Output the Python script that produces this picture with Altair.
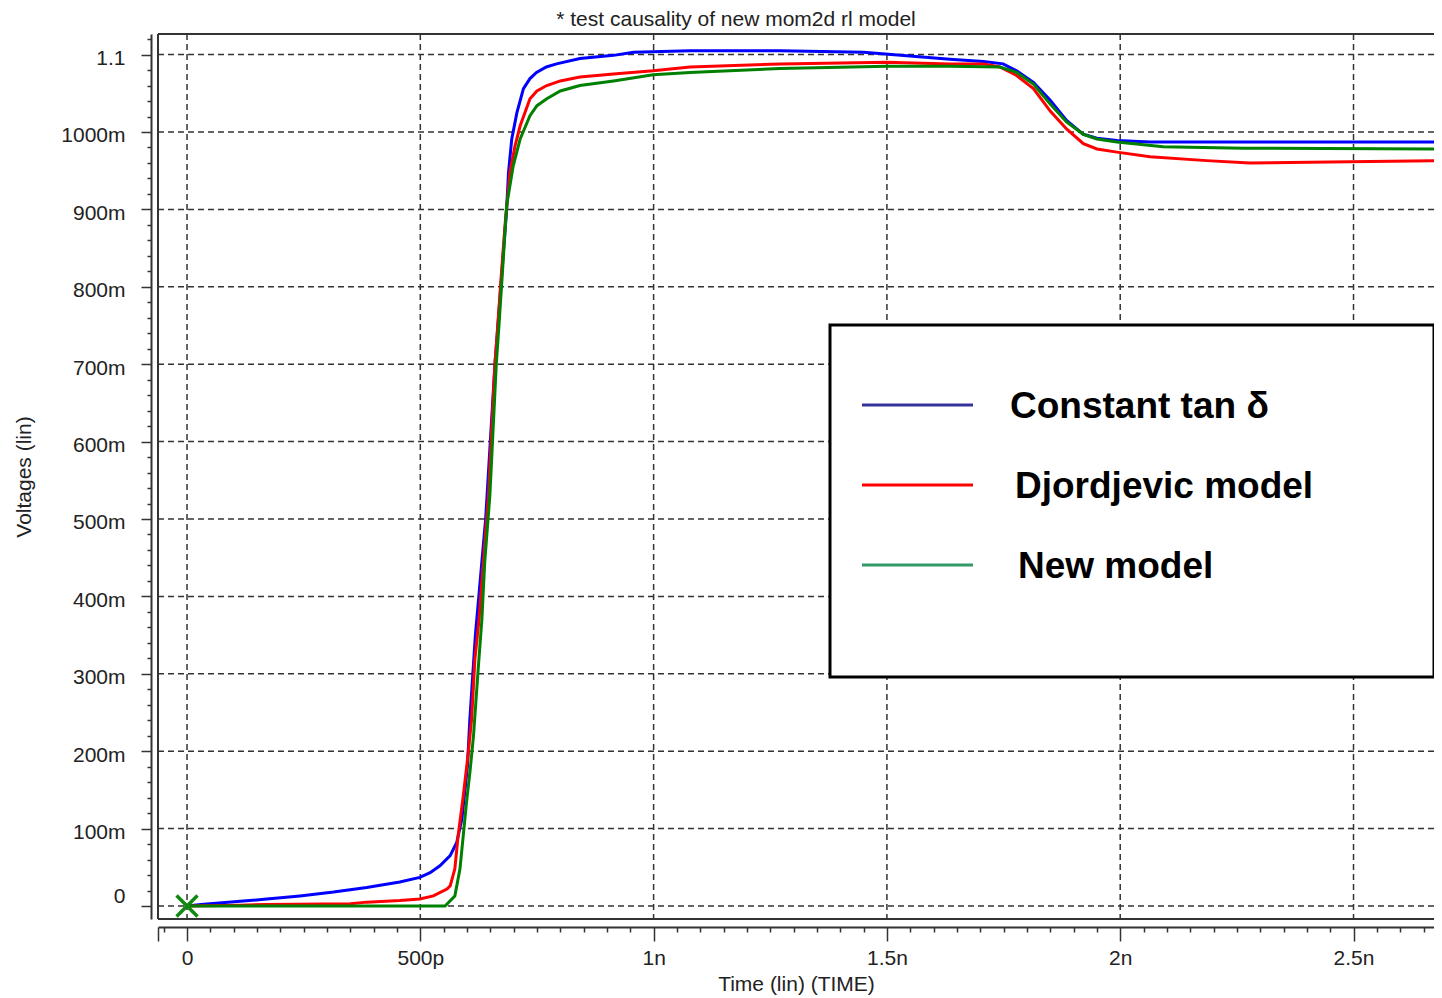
import altair as alt
import pandas as pd

# ---------------- data (time in ns, voltage in V) ----------------
t_blue = [0, 0.03, 0.114, 0.171, 0.242, 0.314, 0.385, 0.456, 0.499, 0.521, 0.542, 0.564,
          0.578, 0.589, 0.596, 0.601, 0.606, 0.618, 0.64, 0.66, 0.675, 0.685, 0.689, 0.696,
          0.707, 0.721, 0.735, 0.749, 0.77, 0.792, 0.842, 0.914, 0.957, 1.078, 1.271, 1.45, 1.635, 1.707,
          1.749, 1.778, 1.814, 1.85, 1.885, 1.921, 1.95, 1.993, 2.064, 2.69]
v_blue = [0, 0.002, 0.006, 0.009, 0.013, 0.018, 0.024, 0.031, 0.037, 0.043, 0.052, 0.065,
          0.082, 0.112, 0.151, 0.181, 0.24, 0.35, 0.5, 0.7, 0.82, 0.9, 0.948, 0.991,
          1.025, 1.056, 1.069, 1.077, 1.084, 1.088, 1.095, 1.099, 1.103, 1.105, 1.105, 1.103, 1.094, 1.091,
          1.088, 1.079, 1.064, 1.041, 1.015, 0.997, 0.992, 0.989, 0.987, 0.987]

t_red = [0, 0.114, 0.171, 0.35, 0.385, 0.456, 0.499, 0.528, 0.557, 0.564, 0.574, 0.581,
         0.592, 0.603, 0.61, 0.617, 0.626, 0.635, 0.646, 0.653, 0.66, 0.664, 0.674, 0.682,
         0.692, 0.703, 0.714, 0.735, 0.75, 0.771, 0.8, 0.842, 0.914, 0.999, 1.078, 1.271, 1.5, 1.635,
         1.707, 1.742, 1.778, 1.814, 1.85, 1.885, 1.921, 1.95, 1.993, 2.064, 2.185, 2.278, 2.535, 2.69]
v_red = [0, 0.001, 0.002, 0.003, 0.005, 0.007, 0.009, 0.013, 0.022, 0.026, 0.048, 0.091,
         0.142, 0.199, 0.242, 0.319, 0.371, 0.444, 0.53, 0.616, 0.702, 0.733, 0.819, 0.883,
         0.948, 0.982, 1.008, 1.043, 1.053, 1.06, 1.066, 1.071, 1.075, 1.079, 1.084, 1.088, 1.09, 1.088,
         1.088, 1.084, 1.073, 1.056, 1.027, 1.004, 0.985, 0.978, 0.974, 0.968, 0.963, 0.96, 0.962, 0.963]

t_green = [0, 0.553, 0.574, 0.585, 0.592, 0.599, 0.607, 0.614, 0.624, 0.632, 0.638, 0.649,
           0.656, 0.663, 0.668, 0.676, 0.685, 0.699, 0.714, 0.735, 0.75, 0.771, 0.8, 0.842, 0.914, 0.999,
           1.078, 1.271, 1.5, 1.635, 1.742, 1.778, 1.814, 1.85, 1.885, 1.921, 1.95, 1.993, 2.092,
           2.264, 2.69]
v_green = [0, 0, 0.013, 0.048, 0.091, 0.134, 0.177, 0.22, 0.306, 0.371, 0.444, 0.53,
           0.616, 0.702, 0.745, 0.819, 0.905, 0.956, 0.991, 1.021, 1.034, 1.043, 1.053, 1.06, 1.066, 1.074,
           1.077, 1.082, 1.085, 1.085, 1.084, 1.077, 1.062, 1.036, 1.013, 0.997, 0.991, 0.987, 0.981,
           0.979, 0.978]

series_names = ["Constant tan δ", "Djordjevic model", "New model"]
line_colors = ["#0000ff", "#ff0000", "#008000"]
legend_colors = ["#333399", "#ff0000", "#339966"]

x_grid = [0, 0.5, 1.0, 1.5, 2.0, 2.5]
y_grid = [0, 0.1, 0.2, 0.3, 0.4, 0.5, 0.6, 0.7, 0.8, 0.9, 1.0, 1.1]
x_ticks = [-0.0615] + [round(-0.05 + 0.05 * i, 2) for i in range(55)]
y_ticks = [round(0.02 * i, 2) for i in range(57)]

marker_t = [0]
marker_v = [0]

title_text = "* test causality of new mom2d rl model"

# ---------------- layout ----------------
FONT = "Liberation Sans"
FS = 21
W, H = 1276, 885
XDOM = [-0.0622, 2.6725]
YDOM = [-0.0168, 1.1266]
xs = alt.Scale(domain=XDOM, nice=False, zero=False)
ys = alt.Scale(domain=YDOM, nice=False, zero=False)
INK = "#333333"
TXT = "#222222"

one = pd.DataFrame({"a": [0]})

x_label_expr = ("(abs(datum.value*2 - round(datum.value*2)) > 0.001 || datum.value < -0.01) ? '' : "
                "(round(datum.value*2) == 0 ? '0' : (round(datum.value*2) == 1 ? '500p' : "
                "(round(datum.value*10)/10) + 'n'))")
y_label_expr = ("abs(datum.value*10 - round(datum.value*10)) > 0.001 ? '' : "
                "(round(datum.value*1000) == 0 ? '0' : (round(datum.value*1000) == 1100 ? '1.1' : "
                "round(datum.value*1000) + 'm'))")

x_axis = alt.Axis(
    values=x_ticks, labelExpr=x_label_expr, grid=False, offset=8, orient="bottom",
    domainColor=INK, domainWidth=2, tickColor=INK, tickWidth=1.5,
    tickSize={"condition": {"test": "abs(datum.value*2 - round(datum.value*2)) < 0.001 || datum.value < -0.055",
                            "value": 14}, "value": 5},
    labelFont=FONT, labelFontSize=FS, labelColor=TXT, labelPadding=6,
    labelOverlap=False, labelFlush=False,
    title="Time (lin) (TIME)", titleFont=FONT, titleFontSize=FS, titleFontWeight="normal",
    titleColor=TXT, titlePadding=5,
)
y_axis = alt.Axis(
    values=y_ticks, labelExpr=y_label_expr, grid=False, offset=7, orient="left",
    domainColor=INK, domainWidth=2, tickColor=INK, tickWidth=1.5,
    tickSize={"condition": {"test": "abs(datum.value*10 - round(datum.value*10)) < 0.001", "value": 10},
              "value": 4},
    labelFont=FONT, labelFontSize=FS, labelColor=TXT, labelPadding=16,
    labelOffset={"condition": {"test": "datum.value == 0", "value": -9}, "value": 4},
    labelOverlap=False, labelFlush=False,
    title="Voltages (lin)", titleFont=FONT, titleFontSize=FS, titleFontWeight="normal",
    titleColor=TXT, titlePadding=26,
)


def X(field):
    return alt.X(field, scale=xs, axis=x_axis)


def Y(field):
    return alt.Y(field, scale=ys, axis=y_axis)


# grid lines
grid_v = alt.Chart(pd.DataFrame({"t": x_grid})).mark_rule(
    color=INK, strokeWidth=1.5, strokeDash=[6, 4]
).encode(x=X("t:Q"))
grid_h = alt.Chart(pd.DataFrame({"v": y_grid})).mark_rule(
    color=INK, strokeWidth=1.5, strokeDash=[6, 4]
).encode(y=Y("v:Q"))

# frame (top, left, bottom)
frame_top = alt.Chart(one).mark_rule(color=INK, strokeWidth=2).encode(
    x=alt.value(0), x2=alt.value(W), y=alt.value(0))
frame_left = alt.Chart(one).mark_rule(color=INK, strokeWidth=2).encode(
    x=alt.value(0), y=alt.value(0), y2=alt.value(H))
frame_bottom = alt.Chart(one).mark_rule(color=INK, strokeWidth=2).encode(
    x=alt.value(0), x2=alt.value(W), y=alt.value(H))

# curves
curve_layers = []
for i, (tt, vv) in enumerate([(t_blue, v_blue), (t_red, v_red), (t_green, v_green)]):
    df = pd.DataFrame({"t": tt, "v": vv, "i": list(range(len(tt)))})
    curve_layers.append(
        alt.Chart(df).mark_line(color=line_colors[i], strokeWidth=3, clip=True).encode(
            x=X("t:Q"), y=Y("v:Q"), order=alt.Order("i:Q"))
    )

# start marker
marker = alt.Chart(pd.DataFrame({"t": marker_t, "v": marker_v})).mark_point(
    shape="M-1,-1L1,1M-1,1L1,-1", filled=False, stroke="#118811", strokeWidth=3.5, size=440, opacity=1
).encode(x=X("t:Q"), y=Y("v:Q"))

# title
title = alt.Chart(one).mark_text(
    text=title_text, font=FONT, fontSize=FS, color=TXT, align="center", baseline="middle"
).encode(x=alt.value(578), y=alt.value(-14))

# legend box
LX0, LX1, LY0, LY1 = 672, 1276, 291, 643
legend_box = alt.Chart(one).mark_rect(fill="white", stroke="black", strokeWidth=3).encode(
    x=alt.value(LX0), x2=alt.value(LX1), y=alt.value(LY0), y2=alt.value(LY1))
legend_layers = [legend_box]
row_y = [371, 451, 531]
text_x = [852, 857, 860]
for i, name in enumerate(series_names):
    legend_layers.append(
        alt.Chart(one).mark_rule(color=legend_colors[i], strokeWidth=3).encode(
            x=alt.value(704), x2=alt.value(815), y=alt.value(row_y[i]))
    )
    legend_layers.append(
        alt.Chart(one).mark_text(
            text=name, font="Liberation Sans", fontSize=37, fontWeight="bold", color="black",
            align="left", baseline="middle"
        ).encode(x=alt.value(text_x[i]), y=alt.value(row_y[i] + 2))
    )

chart = alt.layer(
    grid_v, grid_h, *curve_layers, marker, frame_top, frame_left, frame_bottom, title, *legend_layers
).properties(
    width=W, height=H,
    autosize=alt.AutoSizeParams(type="none"),
    padding={"left": 150, "top": 26, "right": 0, "bottom": 77},
).configure_view(stroke=None).configure(background="white")

chart.save("out.html", embed_options={"renderer": "svg", "actions": False})
